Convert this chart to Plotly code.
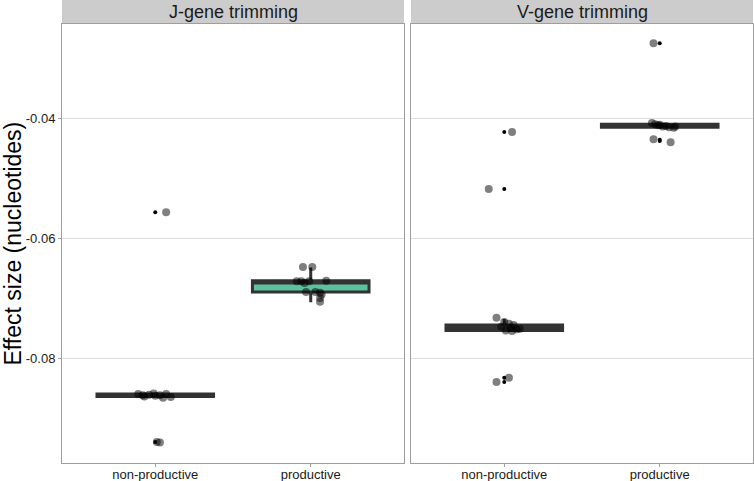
import plotly.graph_objects as go
from plotly.subplots import make_subplots

panels = ["J-gene trimming", "V-gene trimming"]
categories = ["non-productive", "productive"]
y_ticks = [-0.08, -0.06, -0.04]
y_tick_labels = ["-0.08", "-0.06", "-0.04"]

# box statistics, order: [non-productive, productive]
j_q1 = [-0.0864, -0.0690]
j_med = [-0.0862, -0.0675]
j_q3 = [-0.0860, -0.0671]
j_lo = [-0.0866, -0.0707]
j_hi = [-0.0859, -0.0649]

v_q1 = [-0.0754, -0.0415]
v_med = [-0.0750, -0.0413]
v_q3 = [-0.0745, -0.0410]
v_lo = [-0.0756, -0.0417]
v_hi = [-0.0735, -0.0407]

# individual estimates (with the horizontal jitter they were drawn with)
jn_vals = [-0.0860, -0.0862, -0.0864, -0.0861, -0.0859, -0.0863, -0.0862,
           -0.0866, -0.0860, -0.0865, -0.0557, -0.0940, -0.0941]
jn_jit = [-0.11, -0.08, -0.07, -0.04, -0.01, 0.0, 0.03, 0.05, 0.07, 0.10,
          0.07, 0.01, 0.03]
jp_vals = [-0.0648, -0.0648, -0.0672, -0.0672, -0.0675, -0.0672, -0.0671,
           -0.0690, -0.0690, -0.0691, -0.0694, -0.0700, -0.0706]
jp_jit = [-0.05, 0.01, -0.09, -0.06, -0.04, -0.01, 0.10, -0.03, 0.03, 0.06,
          0.07, 0.06, 0.06]
vn_vals = [-0.0733, -0.0740, -0.0743, -0.0745, -0.0748, -0.0750, -0.0752,
           -0.0754, -0.0755, -0.0751, -0.0423, -0.0518, -0.0833, -0.0840]
vn_jit = [-0.05, 0.0, 0.03, 0.06, -0.02, 0.04, 0.08, 0.01, 0.05, 0.10,
          0.05, -0.10, 0.03, -0.05]
vp_vals = [-0.0408, -0.0410, -0.0412, -0.0414, -0.0413, -0.0415, -0.0416,
           -0.0414, -0.0411, -0.0275, -0.0435, -0.0440]
vp_jit = [-0.05, -0.03, -0.01, 0.02, 0.04, 0.06, 0.09, 0.10, 0.0, -0.04,
          -0.04, 0.07]

# boxplot outliers
jn_out = [-0.0557, -0.0940]
jp_out = []
vn_out = [-0.0423, -0.0518, -0.0833, -0.0840]
vp_out = [-0.0275, -0.0436, -0.0438]

box_fills = [["#333333", "#5DC1A0"], ["#333333", "#333333"]]
box_line = "#333333"
font = "Liberation Sans"

fig = make_subplots(rows=1, cols=2, shared_yaxes=True)

stats = [(j_q1, j_med, j_q3, j_lo, j_hi), (v_q1, v_med, v_q3, v_lo, v_hi)]
points = [[(jn_vals, jn_jit, jn_out), (jp_vals, jp_jit, jp_out)],
          [(vn_vals, vn_jit, vn_out), (vp_vals, vp_jit, vp_out)]]

for p in range(2):
    q1, med, q3, lo, hi = stats[p]
    for c in range(2):
        pos = c + 1
        fig.add_trace(
            go.Box(
                x=[pos], q1=[q1[c]], median=[med[c]], q3=[q3[c]],
                lowerfence=[lo[c]], upperfence=[hi[c]],
                width=0.75, whiskerwidth=0, boxpoints=False,
                fillcolor=box_fills[p][c], line=dict(color=box_line, width=3),
                showlegend=False, hoverinfo="skip",
            ),
            row=1, col=p + 1,
        )
        vals, jit, outs = points[p][c]
        if outs:
            fig.add_trace(
                go.Scatter(
                    x=[pos] * len(outs), y=outs, mode="markers",
                    marker=dict(color="black", size=4),
                    showlegend=False,
                ),
                row=1, col=p + 1,
            )
        fig.add_trace(
            go.Scatter(
                x=[pos + j for j in jit], y=vals, mode="markers",
                marker=dict(color="rgba(0,0,0,0.5)", size=8, line=dict(width=0)),
                showlegend=False,
            ),
            row=1, col=p + 1,
        )

W, H = 754, 481
x_doms = [[62 / W, 404 / W], [411 / W, 753 / W]]
y_dom = [1 - 463 / H, 1 - 24 / H]

for i, ax in enumerate(["xaxis", "xaxis2"]):
    fig.layout[ax].update(
        domain=x_doms[i], range=[0.4, 2.6], tickvals=[1, 2], ticktext=categories,
        showgrid=False, zeroline=False, showline=True, mirror=True,
        linecolor="#9E9E9E", linewidth=1, ticks="outside", ticklen=3,
        tickcolor="#9E9E9E", automargin=False, ticklabelstandoff=-4,
        tickfont=dict(family=font, size=13, color="#1A1A1A"),
    )
for i, ax in enumerate(["yaxis", "yaxis2"]):
    fig.layout[ax].update(
        domain=y_dom, range=[-0.0975, -0.0243], tickvals=y_ticks,
        ticktext=y_tick_labels, showgrid=True, gridcolor="#DEDEDE", gridwidth=1,
        zeroline=False, showline=True, mirror=True, linecolor="#9E9E9E",
        linewidth=1, ticks="outside" if i == 0 else "", ticklen=3,
        tickcolor="#9E9E9E", showticklabels=(i == 0), automargin=False,
        tickfont=dict(family=font, size=13, color="#1A1A1A"),
    )

fig.add_annotation(x=12 / W, y=(y_dom[0] + y_dom[1]) / 2, xref="paper", yref="paper",
                   xanchor="center", yanchor="middle",
                   text="Effect size (nucleotides)", textangle=-90, showarrow=False,
                   font=dict(family=font, size=23, color="black"))

for i, name in enumerate(panels):
    fig.add_shape(type="rect", xref="paper", yref="paper",
                  x0=x_doms[i][0], x1=x_doms[i][1], y0=1 - 23 / H, y1=1,
                  fillcolor="#CCCCCC", line=dict(width=0), layer="below")
    fig.add_annotation(x=sum(x_doms[i]) / 2, y=1 - 11.5 / H, xref="paper",
                       yref="paper", xanchor="center", yanchor="middle",
                       text=name, showarrow=False,
                       font=dict(family=font, size=18, color="#1A1A1A"))

fig.update_layout(
    width=W, height=H, margin=dict(l=0, r=0, t=0, b=0, autoexpand=False),
    plot_bgcolor="white", paper_bgcolor="white", showlegend=False,
    font=dict(family=font),
)

# drop the page's default body margin so the figure sits at the window corner
fig.write_html("out.html", config={"displayModeBar": False},
               post_script="document.body.style.margin = '0';")
